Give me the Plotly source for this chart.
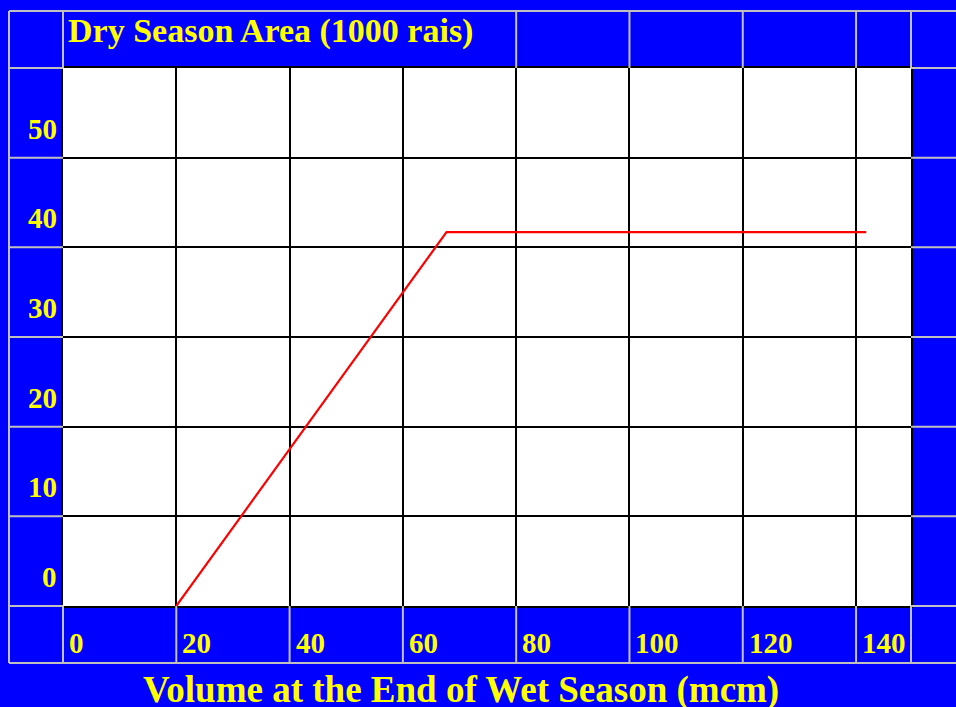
import plotly.graph_objects as go

# ---- data ----
volume = [20, 67.7, 141.8]          # Volume at end of wet season (mcm)
area = [0, 41.7, 41.7]              # Dry season area (1000 rais)
x_ticks = [0, 20, 40, 60, 80, 100, 120, 140]
y_ticks = [0, 10, 20, 30, 40, 50]
title_text = "Dry Season Area (1000 rais)"
xlabel_text = "Volume at the End of Wet Season (mcm)"
title_cell_end = 80   # the title cell in the top strip spans x = 0..80

BLUE = "#0000FF"
YELLOW = "#FFFF00"
SILVER = "#C0C0C0"
FONT = "Liberation Serif"

W, H = 956, 707
ML, MR, MT, MB = 63, 45, 68, 101
PW, PH = W - ML - MR, H - MT - MB

fig = go.Figure()
fig.add_trace(go.Scatter(x=volume, y=area, mode="lines",
                         line=dict(color="#FF0000", width=2.2),
                         hoverinfo="skip", showlegend=False))

# paper positions of the outer silver frame
XL = (9 - ML) / PW
XR = 1.07
YT = 1 + (MT - 11) / PH
YB = -(663 - (H - MB)) / PH

line_style = dict(color=SILVER, width=2)
shapes = []
# outer frame
shapes.append(dict(type="line", xref="paper", yref="paper", x0=XL, x1=XR, y0=YT, y1=YT, line=line_style))
shapes.append(dict(type="line", xref="paper", yref="paper", x0=XL, x1=XR, y0=YB, y1=YB, line=line_style))
shapes.append(dict(type="line", xref="paper", yref="paper", x0=XL, x1=XL, y0=YB, y1=YT, line=line_style))
# vertical extensions in top and bottom strips
for v in x_ticks[1:]:
    shapes.append(dict(type="line", xref="x", yref="paper", x0=v, x1=v, y0=YB, y1=0, line=line_style))
    if v >= title_cell_end:
        shapes.append(dict(type="line", xref="x", yref="paper", x0=v, x1=v, y0=1, y1=YT, line=line_style))
for px in (0, 1):
    for (a, b) in ((1, YT), (YB, 0)):
        shapes.append(dict(type="line", xref="paper", yref="paper", x0=px, x1=px, y0=a, y1=b, line=line_style))
# horizontal extensions in left and right columns
for v in y_ticks[1:]:
    for (a, b) in ((XL, 0), (1, XR)):
        shapes.append(dict(type="line", xref="paper", yref="y", x0=a, x1=b, y0=v, y1=v, line=line_style))
for py in (0, 1):
    for (a, b) in ((XL, 0), (1, XR)):
        shapes.append(dict(type="line", xref="paper", yref="paper", x0=a, x1=b, y0=py, y1=py, line=line_style))

annotations = []
tick_font = dict(family=FONT, size=29, color=YELLOW, weight="bold")
for v in x_ticks:
    annotations.append(dict(text=f"<b>{v}</b>", x=v, xref="x", y=0, yref="paper",
                            xanchor="left", yanchor="middle", xshift=4, yshift=-37,
                            showarrow=False, font=tick_font))
for v in y_ticks:
    annotations.append(dict(text=f"<b>{v}</b>", x=0, xref="paper", y=v, yref="y",
                            xanchor="right", yanchor="middle", xshift=-4, yshift=29,
                            showarrow=False, font=tick_font))
annotations.append(dict(text=f"<b>{title_text}</b>", x=0, xref="paper", y=1, yref="paper",
                        xanchor="left", yanchor="middle", xshift=3, yshift=37,
                        showarrow=False, font=dict(family=FONT, size=34, color=YELLOW, weight="bold")))
annotations.append(dict(text=f"<b>{xlabel_text}</b>", x=(461 - ML) / PW, xref="paper", y=0, yref="paper",
                        xanchor="center", yanchor="middle", yshift=-84,
                        showarrow=False, font=dict(family=FONT, size=37, color=YELLOW, weight="bold")))

axis_common = dict(showgrid=True, gridcolor="black", gridwidth=2, zeroline=False,
                   showline=True, linecolor="black", linewidth=2, mirror=True,
                   showticklabels=False, ticks="", fixedrange=True)

fig.update_layout(
    width=W, height=H,
    margin=dict(l=ML, r=MR, t=MT, b=MB, pad=0),
    paper_bgcolor=BLUE, plot_bgcolor="white",
    xaxis=dict(range=[0, 149.7], tickvals=x_ticks, **axis_common),
    yaxis=dict(range=[0, 60], tickvals=y_ticks, **axis_common),
    shapes=shapes, annotations=annotations,
    showlegend=False,
)

fig.write_html("out.html", config={"displayModeBar": False},
               post_script="document.body.style.margin='0';document.body.style.overflow='hidden';")
